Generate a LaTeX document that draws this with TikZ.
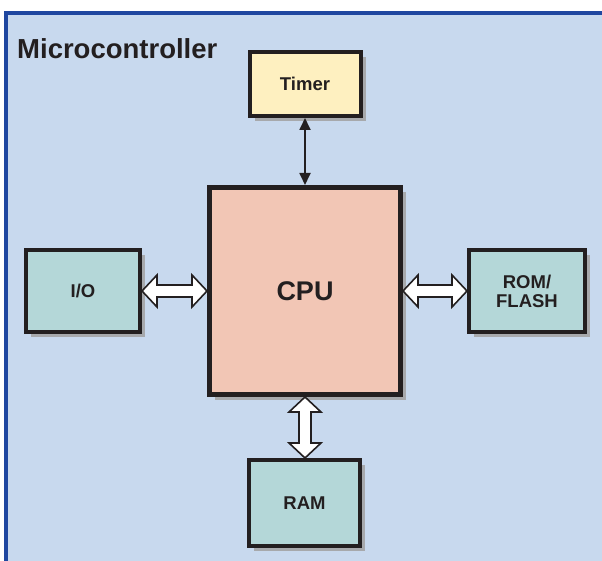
\documentclass[tikz,border=0pt]{standalone}
\usepackage{fontspec}
\setmainfont{Liberation Sans}
\usetikzlibrary{arrows.meta,shadows,calc}
\definecolor{bgblue}{HTML}{C8D9EE}
\definecolor{frameblue}{HTML}{1F47A0}
\definecolor{timerfill}{HTML}{FEF0C0}
\definecolor{cpufill}{HTML}{F2C6B5}
\definecolor{tealfill}{HTML}{B4D7D8}
\definecolor{shadowgray}{HTML}{A7A9AC}
\definecolor{ink}{HTML}{231F20}
\tikzset{
  block/.style={draw=ink, line width=4pt, text=ink, font=\bfseries\fontsize{18.5}{19}\selectfont,
    align=center, inner sep=0pt,
    drop shadow={shadow xshift=5pt, shadow yshift=-5pt, fill=shadowgray, opacity=1}},
  fatarrow/.style={draw=ink, fill=white, line width=1.6pt, line join=miter},
  thinarrow/.style={draw=ink, line width=1.8pt, {Triangle[length=12pt,width=11pt]}-{Triangle[length=12pt,width=11pt]}},
}
\newcommand{\fatH}[2]{%
  \path[fatarrow] let \p1=(#1.east), \p2=(#2.west) in
    (\x1,\y1) -- (\x1+15pt,\y1+16pt) -- (\x1+15pt,\y1+6pt) -- (\x2-15pt,\y1+6pt) -- (\x2-15pt,\y1+16pt)
    -- (\x2,\y1) -- (\x2-15pt,\y1-16pt) -- (\x2-15pt,\y1-6pt) -- (\x1+15pt,\y1-6pt) -- (\x1+15pt,\y1-16pt) -- cycle;}
\newcommand{\fatV}[2]{%
  \path[fatarrow] let \p1=(#1.south), \p2=(#2.north) in
    (\x1,\y1) -- (\x1+16pt,\y1-15pt) -- (\x1+6pt,\y1-15pt) -- (\x1+6pt,\y2+15pt) -- (\x1+16pt,\y2+15pt)
    -- (\x1,\y2) -- (\x1-16pt,\y2+15pt) -- (\x1-6pt,\y2+15pt) -- (\x1-6pt,\y1-15pt) -- (\x1-16pt,\y1-15pt) -- cycle;}
\begin{document}
\begin{tikzpicture}[x=1pt,y=-1pt]
\useasboundingbox (0,0) rectangle (602,561);
\fill[white] (0,0) rectangle (602,561);
\fill[bgblue] (4,11) rectangle (602,561);
\draw[frameblue, line width=4pt] (6,561) -- (6,13) -- (602,13);

\node[anchor=base west, text=ink, font=\bfseries\fontsize{27.5}{30}\selectfont, inner sep=0pt] (title) at (17,59) {Microcontroller};

\node[block, fill=timerfill, minimum width=111pt, minimum height=64pt] (timer) at (305,84) {Timer};
\node[block, fill=cpufill, line width=5pt, minimum width=191pt, minimum height=207pt, font=\bfseries\fontsize{27}{30}\selectfont] (cpu) at (305,291) {CPU};
\node[block, fill=tealfill, minimum width=114pt, minimum height=82pt] (io) at (83,291) {I/O};
\node[block, fill=tealfill, minimum width=116pt, minimum height=82pt] (rom) at (527,291) {ROM/\\FLASH};
\node[block, fill=tealfill, minimum width=111pt, minimum height=86pt] (ram) at (304.5,503) {RAM};

\draw[thinarrow] (timer.south) -- (cpu.north);
\fatH{io}{cpu}
\fatH{cpu}{rom}
\fatV{cpu}{ram}
\end{tikzpicture}
\end{document}
